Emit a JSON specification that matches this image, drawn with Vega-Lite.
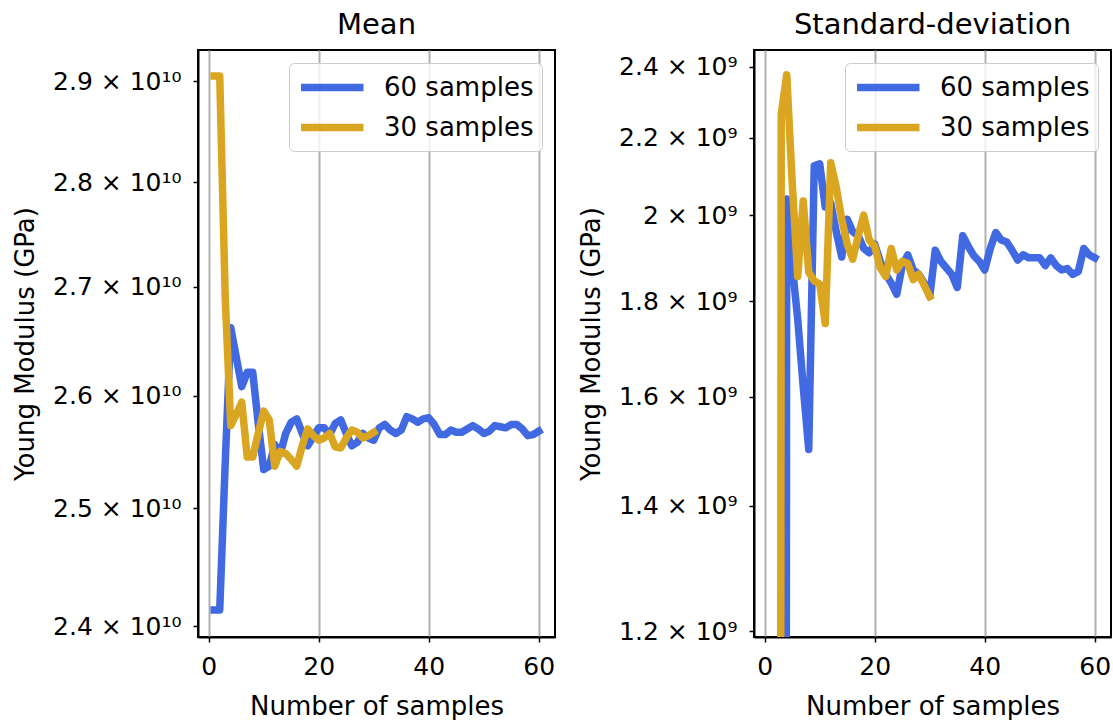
{
  "$schema": "https://vega.github.io/schema/vega-lite/v6.json",
  "background": "white",
  "padding": {"left": 11, "top": 10, "right": 0, "bottom": 0},
  "config": {
    "font": "DejaVu Sans",
    "view": {"stroke": "black", "strokeWidth": 2},
    "axis": {
      "labelFont": "DejaVu Sans", "titleFont": "DejaVu Sans",
      "labelFontSize": 25, "titleFontSize": 26, "titleFontWeight": "normal",
      "labelColor": "black", "titleColor": "black",
      "domainColor": "black", "domainWidth": 2,
      "tickColor": "black", "tickWidth": 1.5, "tickSize": 5,
      "labelPadding": 12, "titlePadding": 14
    },
    "title": {"font": "DejaVu Sans", "fontSize": 29, "fontWeight": "normal", "color": "black", "offset": 10, "frame": "group"},
    "legend": {
      "orient": "top-right", "offset": 13, "padding": 8,
      "fillColor": "rgba(255,255,255,0.8)", "strokeColor": "#cccccc", "cornerRadius": 5,
      "symbolType": "M-1,0H4", "symbolStrokeWidth": 7.5, "symbolSize": 625,
      "labelFont": "DejaVu Sans", "labelFontSize": 26, "labelColor": "black", "labelLimit": 300,
      "labelOffset": 54, "rowPadding": 8, "title": null
    }
  },
  "datasets": {
    "mean": [
      {"n":1,"s":"60 samples","v":2.4135e10},{"n":2,"s":"60 samples","v":2.4135e10},{"n":3,"s":"60 samples","v":2.54e10},
      {"n":4,"s":"60 samples","v":2.662e10},{"n":5,"s":"60 samples","v":2.635e10},{"n":6,"s":"60 samples","v":2.608e10},
      {"n":7,"s":"60 samples","v":2.621e10},{"n":8,"s":"60 samples","v":2.621e10},{"n":9,"s":"60 samples","v":2.575e10},
      {"n":10,"s":"60 samples","v":2.534e10},{"n":11,"s":"60 samples","v":2.537e10},{"n":12,"s":"60 samples","v":2.556e10},
      {"n":13,"s":"60 samples","v":2.548e10},{"n":14,"s":"60 samples","v":2.566e10},{"n":15,"s":"60 samples","v":2.576e10},
      {"n":16,"s":"60 samples","v":2.579e10},{"n":17,"s":"60 samples","v":2.566e10},{"n":18,"s":"60 samples","v":2.555e10},
      {"n":19,"s":"60 samples","v":2.563e10},{"n":20,"s":"60 samples","v":2.571e10},{"n":21,"s":"60 samples","v":2.571e10},
      {"n":22,"s":"60 samples","v":2.565e10},{"n":23,"s":"60 samples","v":2.575e10},{"n":24,"s":"60 samples","v":2.578e10},
      {"n":25,"s":"60 samples","v":2.566e10},{"n":26,"s":"60 samples","v":2.555e10},{"n":27,"s":"60 samples","v":2.558e10},
      {"n":28,"s":"60 samples","v":2.566e10},{"n":29,"s":"60 samples","v":2.562e10},{"n":30,"s":"60 samples","v":2.560e10},
      {"n":31,"s":"60 samples","v":2.571e10},{"n":32,"s":"60 samples","v":2.574e10},{"n":33,"s":"60 samples","v":2.569e10},
      {"n":34,"s":"60 samples","v":2.566e10},{"n":35,"s":"60 samples","v":2.569e10},{"n":36,"s":"60 samples","v":2.581e10},
      {"n":37,"s":"60 samples","v":2.579e10},{"n":38,"s":"60 samples","v":2.576e10},{"n":39,"s":"60 samples","v":2.579e10},
      {"n":40,"s":"60 samples","v":2.580e10},{"n":41,"s":"60 samples","v":2.574e10},{"n":42,"s":"60 samples","v":2.565e10},
      {"n":43,"s":"60 samples","v":2.565e10},{"n":44,"s":"60 samples","v":2.569e10},{"n":45,"s":"60 samples","v":2.567e10},
      {"n":46,"s":"60 samples","v":2.567e10},{"n":47,"s":"60 samples","v":2.570e10},{"n":48,"s":"60 samples","v":2.573e10},
      {"n":49,"s":"60 samples","v":2.570e10},{"n":50,"s":"60 samples","v":2.566e10},{"n":51,"s":"60 samples","v":2.568e10},
      {"n":52,"s":"60 samples","v":2.573e10},{"n":53,"s":"60 samples","v":2.572e10},{"n":54,"s":"60 samples","v":2.571e10},
      {"n":55,"s":"60 samples","v":2.574e10},{"n":56,"s":"60 samples","v":2.574e10},{"n":57,"s":"60 samples","v":2.570e10},
      {"n":58,"s":"60 samples","v":2.564e10},{"n":59,"s":"60 samples","v":2.565e10},{"n":60,"s":"60 samples","v":2.568e10},
      {"n":1,"s":"30 samples","v":2.905e10},{"n":2,"s":"30 samples","v":2.905e10},{"n":3,"s":"30 samples","v":2.69e10},
      {"n":4,"s":"30 samples","v":2.573e10},{"n":5,"s":"30 samples","v":2.583e10},{"n":6,"s":"30 samples","v":2.594e10},
      {"n":7,"s":"30 samples","v":2.545e10},{"n":8,"s":"30 samples","v":2.545e10},{"n":9,"s":"30 samples","v":2.566e10},
      {"n":10,"s":"30 samples","v":2.586e10},{"n":11,"s":"30 samples","v":2.578e10},{"n":12,"s":"30 samples","v":2.537e10},
      {"n":13,"s":"30 samples","v":2.550e10},{"n":14,"s":"30 samples","v":2.548e10},{"n":15,"s":"30 samples","v":2.543e10},
      {"n":16,"s":"30 samples","v":2.537e10},{"n":17,"s":"30 samples","v":2.555e10},{"n":18,"s":"30 samples","v":2.570e10},
      {"n":19,"s":"30 samples","v":2.564e10},{"n":20,"s":"30 samples","v":2.560e10},{"n":21,"s":"30 samples","v":2.562e10},
      {"n":22,"s":"30 samples","v":2.566e10},{"n":23,"s":"30 samples","v":2.554e10},{"n":24,"s":"30 samples","v":2.553e10},
      {"n":25,"s":"30 samples","v":2.562e10},{"n":26,"s":"30 samples","v":2.569e10},{"n":27,"s":"30 samples","v":2.567e10},
      {"n":28,"s":"30 samples","v":2.562e10},{"n":29,"s":"30 samples","v":2.564e10},{"n":30,"s":"30 samples","v":2.567e10}
    ],
    "std": [
      {"n":3,"s":"60 samples","v":1e6},{"n":4,"s":"60 samples","v":2.04e9},{"n":5,"s":"60 samples","v":1.88e9},
      {"n":6,"s":"60 samples","v":1.76e9},{"n":7,"s":"60 samples","v":1.62e9},{"n":8,"s":"60 samples","v":1.50e9},
      {"n":9,"s":"60 samples","v":2.125e9},{"n":10,"s":"60 samples","v":2.13e9},{"n":11,"s":"60 samples","v":2.02e9},
      {"n":12,"s":"60 samples","v":2.03e9},{"n":13,"s":"60 samples","v":1.96e9},{"n":14,"s":"60 samples","v":1.90e9},
      {"n":15,"s":"60 samples","v":1.99e9},{"n":16,"s":"60 samples","v":1.96e9},{"n":17,"s":"60 samples","v":1.95e9},
      {"n":18,"s":"60 samples","v":1.92e9},{"n":19,"s":"60 samples","v":1.91e9},{"n":20,"s":"60 samples","v":1.93e9},
      {"n":21,"s":"60 samples","v":1.89e9},{"n":22,"s":"60 samples","v":1.86e9},{"n":23,"s":"60 samples","v":1.84e9},
      {"n":24,"s":"60 samples","v":1.815e9},{"n":25,"s":"60 samples","v":1.88e9},{"n":26,"s":"60 samples","v":1.905e9},
      {"n":27,"s":"60 samples","v":1.87e9},{"n":28,"s":"60 samples","v":1.86e9},{"n":29,"s":"60 samples","v":1.84e9},
      {"n":30,"s":"60 samples","v":1.81e9},{"n":31,"s":"60 samples","v":1.916e9},{"n":32,"s":"60 samples","v":1.89e9},
      {"n":33,"s":"60 samples","v":1.875e9},{"n":34,"s":"60 samples","v":1.86e9},{"n":35,"s":"60 samples","v":1.83e9},
      {"n":36,"s":"60 samples","v":1.95e9},{"n":37,"s":"60 samples","v":1.925e9},{"n":38,"s":"60 samples","v":1.903e9},
      {"n":39,"s":"60 samples","v":1.89e9},{"n":40,"s":"60 samples","v":1.87e9},{"n":41,"s":"60 samples","v":1.92e9},
      {"n":42,"s":"60 samples","v":1.958e9},{"n":43,"s":"60 samples","v":1.94e9},{"n":44,"s":"60 samples","v":1.935e9},
      {"n":45,"s":"60 samples","v":1.915e9},{"n":46,"s":"60 samples","v":1.893e9},{"n":47,"s":"60 samples","v":1.905e9},
      {"n":48,"s":"60 samples","v":1.898e9},{"n":49,"s":"60 samples","v":1.898e9},{"n":50,"s":"60 samples","v":1.898e9},
      {"n":51,"s":"60 samples","v":1.88e9},{"n":52,"s":"60 samples","v":1.898e9},{"n":53,"s":"60 samples","v":1.88e9},
      {"n":54,"s":"60 samples","v":1.87e9},{"n":55,"s":"60 samples","v":1.873e9},{"n":56,"s":"60 samples","v":1.86e9},
      {"n":57,"s":"60 samples","v":1.866e9},{"n":58,"s":"60 samples","v":1.92e9},{"n":59,"s":"60 samples","v":1.905e9},
      {"n":60,"s":"60 samples","v":1.898e9},
      {"n":2,"s":"30 samples","v":1e6},{"n":3,"s":"30 samples","v":2.264e9},{"n":4,"s":"30 samples","v":2.376e9},
      {"n":5,"s":"30 samples","v":2.08e9},{"n":6,"s":"30 samples","v":1.855e9},{"n":7,"s":"30 samples","v":2.035e9},
      {"n":8,"s":"30 samples","v":1.865e9},{"n":9,"s":"30 samples","v":1.845e9},{"n":10,"s":"30 samples","v":1.838e9},
      {"n":11,"s":"30 samples","v":1.751e9},{"n":12,"s":"30 samples","v":2.133e9},{"n":13,"s":"30 samples","v":2.07e9},
      {"n":14,"s":"30 samples","v":1.99e9},{"n":15,"s":"30 samples","v":1.93e9},{"n":16,"s":"30 samples","v":1.895e9},
      {"n":17,"s":"30 samples","v":1.95e9},{"n":18,"s":"30 samples","v":2.0e9},{"n":19,"s":"30 samples","v":1.94e9},
      {"n":20,"s":"30 samples","v":1.925e9},{"n":21,"s":"30 samples","v":1.875e9},{"n":22,"s":"30 samples","v":1.855e9},
      {"n":23,"s":"30 samples","v":1.92e9},{"n":24,"s":"30 samples","v":1.87e9},{"n":25,"s":"30 samples","v":1.89e9},
      {"n":26,"s":"30 samples","v":1.885e9},{"n":27,"s":"30 samples","v":1.848e9},{"n":28,"s":"30 samples","v":1.86e9},
      {"n":29,"s":"30 samples","v":1.835e9},{"n":30,"s":"30 samples","v":1.81e9}
    ]
  },
  "hconcat": [
    {
      "title": "Mean",
      "width": 357, "height": 587,
      "data": {"name": "mean"},
      "mark": {"type": "line", "strokeWidth": 7.5, "clip": true, "strokeJoin": "round", "strokeCap": "square"},
      "encoding": {
        "x": {"field": "n", "type": "quantitative", "title": "Number of samples",
              "scale": {"domain": [-1.95, 62.95], "nice": false, "zero": false},
              "axis": {"values": [0, 20, 40, 60], "format": "d", "grid": true, "gridColor": "#b0b0b0", "gridWidth": 2}},
        "y": {"field": "v", "type": "quantitative", "title": "Young Modulus (GPa)",
              "scale": {"type": "log", "domain": [2.3909e10, 2.9314e10], "nice": false, "zero": false},
              "axis": {"values": [2.4e10, 2.5e10, 2.6e10, 2.7e10, 2.8e10, 2.9e10], "grid": false,
                       "labelExpr": "format(datum.value/1e10, '.2~g') + ' × 10¹⁰'"}},
        "color": {"field": "s", "type": "nominal",
                  "scale": {"domain": ["60 samples", "30 samples"], "range": ["#4169E1", "#DAA520"]}},
        "order": {"field": "n"}
      }
    },
    {
      "title": "Standard-deviation",
      "width": 357, "height": 587,
      "data": {"name": "std"},
      "mark": {"type": "line", "strokeWidth": 7.5, "clip": true, "strokeJoin": "round", "strokeCap": "square"},
      "encoding": {
        "x": {"field": "n", "type": "quantitative", "title": "Number of samples",
              "scale": {"domain": [-1.95, 62.95], "nice": false, "zero": false},
              "axis": {"values": [0, 20, 40, 60], "format": "d", "grid": true, "gridColor": "#b0b0b0", "gridWidth": 2}},
        "y": {"field": "v", "type": "quantitative", "title": "Young Modulus (GPa)",
              "scale": {"type": "log", "domain": [1.1916e9, 2.4497e9], "nice": false, "zero": false},
              "axis": {"values": [1.2e9, 1.4e9, 1.6e9, 1.8e9, 2.0e9, 2.2e9, 2.4e9], "grid": false,
                       "labelExpr": "format(datum.value/1e9, '.2~g') + ' × 10⁹'"}},
        "color": {"field": "s", "type": "nominal",
                  "scale": {"domain": ["60 samples", "30 samples"], "range": ["#4169E1", "#DAA520"]}},
        "order": {"field": "n"}
      }
    }
  ],
  "spacing": 21,
  "resolve": {"scale": {"color": "independent", "x": "independent", "y": "independent"}, "legend": {"color": "independent"}}
}
